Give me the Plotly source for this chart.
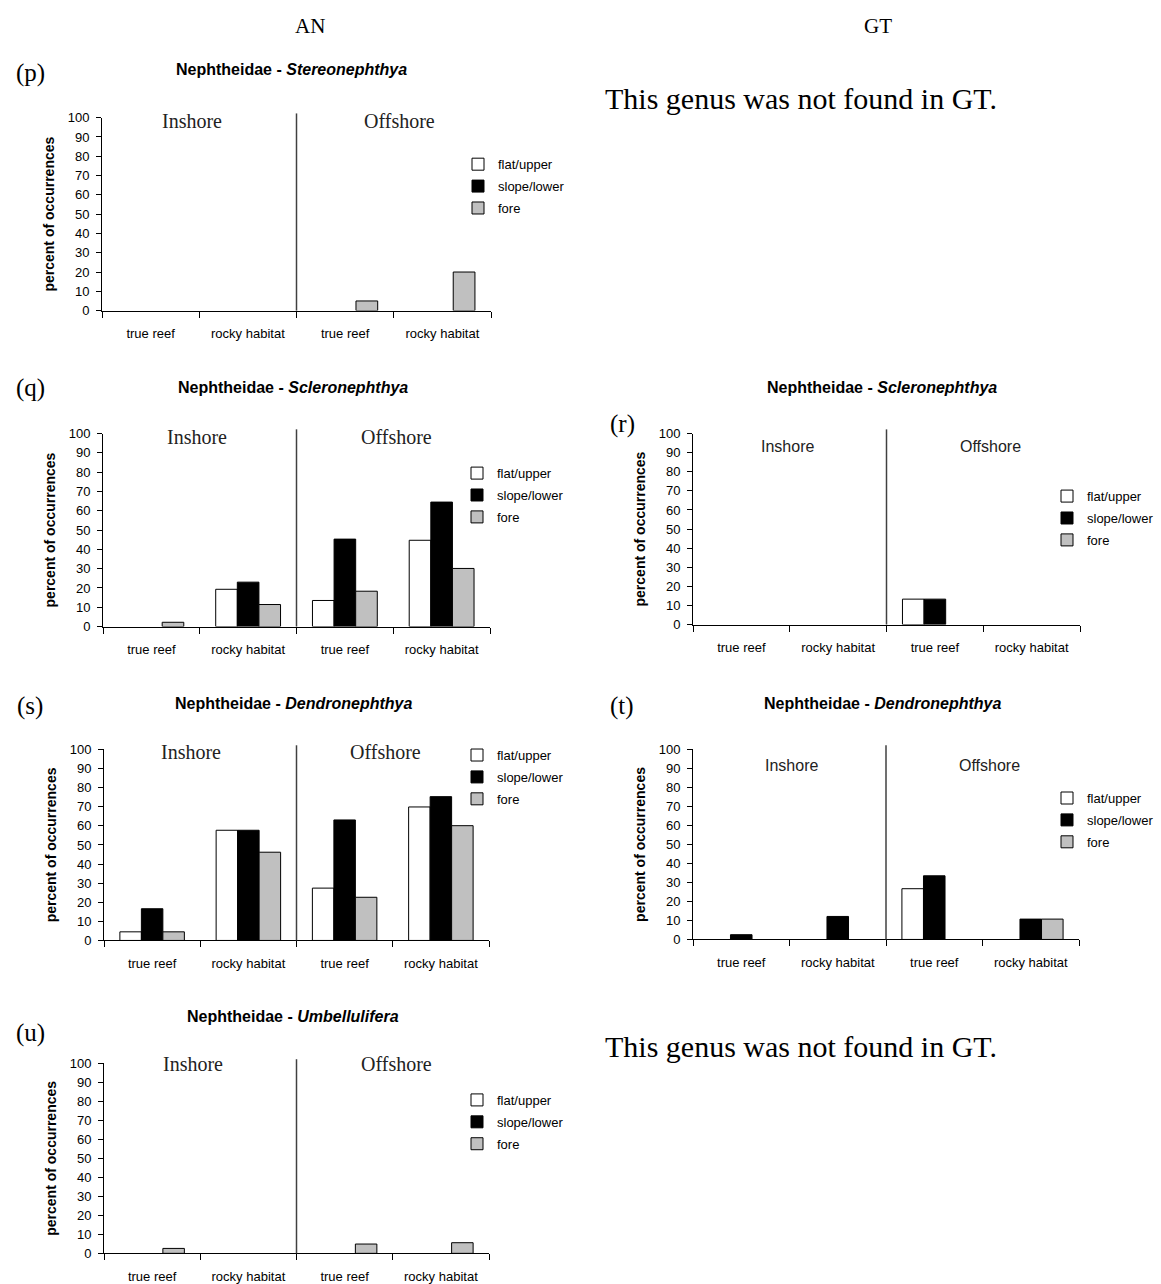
import plotly.graph_objects as go

W, H = 1161, 1284

# ---------------- data ----------------
categories = ["true reef", "rocky habitat", "true reef", "rocky habitat"]
series_names = ["flat/upper", "slope/lower", "fore"]
series_colors = ["#ffffff", "#000000", "#c0c0c0"]
zones = ["Inshore", "Offshore"]

# (p) AN - Stereonephthya
p_flat = [0, 0, 0, 0]
p_slope = [0, 0, 0, 0]
p_fore = [0, 0, 5, 20]
# (q) AN - Scleronephthya
q_flat = [0, 19.3, 13.5, 44.7]
q_slope = [0, 23, 45.3, 64.5]
q_fore = [2.2, 11.4, 18.3, 30.1]
# (r) GT - Scleronephthya
r_flat = [0, 0, 13.3, 0]
r_slope = [0, 0, 13.3, 0]
r_fore = [0, 0, 0, 0]
# (s) AN - Dendronephthya
s_flat = [4.5, 57.7, 27.4, 69.9]
s_slope = [16.6, 57.7, 63.1, 75.3]
s_fore = [4.5, 46.2, 22.6, 60.1]
# (t) GT - Dendronephthya
t_flat = [0, 0, 26.7, 0]
t_slope = [2.5, 12.1, 33.5, 10.7]
t_fore = [0, 0, 0, 10.7]
# (u) AN - Umbellulifera
u_flat = [0, 0, 0, 0]
u_slope = [0, 0, 0, 0]
u_fore = [2.6, 0, 4.9, 5.6]

y_ticks = list(range(0, 101, 10))

# ---------------- layout helpers ----------------
def fx(x):
    return x / W

def vy(y):
    # calibrated vertical pixel position
    return (y - 6.3) / 0.9886

def fy(y):
    return 1 - vy(y) / H

SERIF = "Liberation Serif, Times New Roman, serif"
SANS = "Liberation Sans, Arial, sans-serif"
LEG_OFFSET = 15.6

# pixel geometry of each panel (layout only)
panels = [
    dict(label="(p)", genus="Stereonephthya", vals=(p_flat, p_slope, p_fore),
         xd=(102, 491), yd=(117, 310), style="AN", title_xy=(291, 69), label_xy=(30, 72),
         zone_xy=((192, 120), (399, 120)), leg=(458, 164)),
    dict(label="(q)", genus="Scleronephthya", vals=(q_flat, q_slope, q_fore),
         xd=(103, 490), yd=(433, 626), style="AN", title_xy=(293, 387), label_xy=(30, 387),
         zone_xy=((197, 436), (396, 436)), leg=(457, 473)),
    dict(label="(r)", genus="Scleronephthya", vals=(r_flat, r_slope, r_fore),
         xd=(693, 1080), yd=(433, 624), style="GT", title_xy=(882, 387), label_xy=(622, 423),
         zone_xy=((787, 446), (990, 446)), leg=(1047, 496)),
    dict(label="(s)", genus="Dendronephthya", vals=(s_flat, s_slope, s_fore),
         xd=(104, 489), yd=(749, 940), style="AN", title_xy=(293, 703), label_xy=(30, 705),
         zone_xy=((191, 752), (386, 752)), leg=(457, 755)),
    dict(label="(t)", genus="Dendronephthya", vals=(t_flat, t_slope, t_fore),
         xd=(693, 1079), yd=(749, 939), style="GT", title_xy=(882, 703), label_xy=(622, 705),
         zone_xy=((791, 765), (989, 765)), leg=(1047, 798)),
    dict(label="(u)", genus="Umbellulifera", vals=(u_flat, u_slope, u_fore),
         xd=(104, 489), yd=(1063, 1253), style="AN", title_xy=(293, 1016), label_xy=(30, 1033),
         zone_xy=((193, 1064), (396, 1064)), leg=(457, 1100)),
]

fig = go.Figure()
layout = dict(
    width=W, height=H,
    margin=dict(l=0, r=0, t=0, b=0),
    paper_bgcolor="white", plot_bgcolor="white",
    barmode="group", bargap=0.33, bargroupgap=0,
    showlegend=True,
    font=dict(family=SANS, color="black"),
)
annotations = []
shapes = []

for i, pn in enumerate(panels, start=1):
    sfx = "" if i == 1 else str(i)
    xa, ya = "x" + sfx, "y" + sfx
    leg_key = "legend" + sfx
    for name, color, vals in zip(series_names, series_colors, pn["vals"]):
        fig.add_trace(go.Bar(
            x=list(range(len(categories))),
            y=[v if v > 0 else None for v in vals],
            name=name,
            marker=dict(color=color, line=dict(color="black", width=1)),
            xaxis=xa, yaxis=ya, legend=leg_key,
            legendgroup=f"{pn['label']}_{name}",
            hoverinfo="skip",
        ))
    layout["xaxis" + sfx] = dict(
        domain=[fx(pn["xd"][0]), fx(pn["xd"][1])], anchor=ya,
        range=[-0.5, len(categories) - 0.5], fixedrange=True,
        tickmode="array", tickvals=list(range(len(categories))), ticktext=categories,
        ticks="", showgrid=False, zeroline=False,
        showline=True, linecolor="black", linewidth=1,
        tickfont=dict(family=SANS, size=13, color="black"),
        ticklabelstandoff=11,
        minor=dict(tickmode="array", tickvals=[k - 0.5 for k in range(len(categories) + 1)],
                   ticks="outside", ticklen=6, tickcolor="black", tickwidth=1, showgrid=False),
    )
    layout["yaxis" + sfx] = dict(
        domain=[fy(pn["yd"][1]), fy(pn["yd"][0])], anchor=xa,
        range=[0, 100], fixedrange=True,
        tickmode="array", tickvals=y_ticks,
        ticks="outside", ticklen=5, tickcolor="black",
        showgrid=False, zeroline=False,
        showline=True, linecolor="black", linewidth=1,
        tickfont=dict(family=SANS, size=13, color="black"),
        ticklabelstandoff=4,
        title=dict(text="<b>percent of occurrences</b>", standoff=9,
                   font=dict(family=SANS, size=14, color="black")),
    )
    layout[leg_key] = dict(
        x=fx(pn["leg"][0]), y=1 - (vy(pn["leg"][1]) - LEG_OFFSET) / H,
        xanchor="left", yanchor="top",
        bgcolor="rgba(0,0,0,0)", borderwidth=0,
        font=dict(family=SANS, size=13, color="black"),
        traceorder="grouped", tracegroupgap=2, itemclick=False, itemdoubleclick=False,
    )
    # divider between Inshore / Offshore
    shapes.append(dict(type="line", xref=xa + " domain", yref=ya + " domain",
                       x0=0.5, x1=0.5, y0=0, y1=1.022,
                       line=dict(color="#404040", width=1.5)))
    # zone labels
    zfont = dict(family=SERIF, size=20, color="#222") if pn["style"] == "AN" else \
        dict(family=SANS, size=16, color="#222")
    for (zx, zy), zname in zip(pn["zone_xy"], zones):
        annotations.append(dict(text=zname, xref="paper", yref="paper",
                                x=fx(zx), y=fy(zy),
                                showarrow=False, font=zfont, xanchor="center", yanchor="middle"))
    # title
    annotations.append(dict(text=f"<b>Nephtheidae - <i>{pn['genus']}</i></b>",
                            xref="paper", yref="paper",
                            x=fx(pn["title_xy"][0]), y=fy(pn["title_xy"][1]),
                            showarrow=False, xanchor="center", yanchor="middle",
                            font=dict(family=SANS, size=16, color="black")))
    # panel label
    annotations.append(dict(text=pn["label"], xref="paper", yref="paper",
                            x=fx(pn["label_xy"][0]), y=fy(pn["label_xy"][1]),
                            showarrow=False, xanchor="center", yanchor="middle",
                            font=dict(family=SERIF, size=25, color="black")))

# column headers
annotations.append(dict(text="AN", xref="paper", yref="paper", x=fx(310), y=fy(25),
                        showarrow=False, xanchor="center", yanchor="middle",
                        font=dict(family=SERIF, size=21, color="black")))
annotations.append(dict(text="GT", xref="paper", yref="paper", x=fx(878), y=fy(25),
                        showarrow=False, xanchor="center", yanchor="middle",
                        font=dict(family=SERIF, size=21, color="black")))
for yy in (98, 1046):
    annotations.append(dict(text="This genus was not found in GT.", xref="paper", yref="paper",
                            x=fx(603), y=fy(yy), showarrow=False, xanchor="left", yanchor="middle",
                            font=dict(family=SERIF, size=30, color="black")))

layout["annotations"] = annotations
layout["shapes"] = shapes
fig.update_layout(**layout)
fig.write_html(
    "out.html",
    config={"displayModeBar": False},
    post_script="document.body.style.margin='0px'; document.body.style.overflow='hidden';",
)
